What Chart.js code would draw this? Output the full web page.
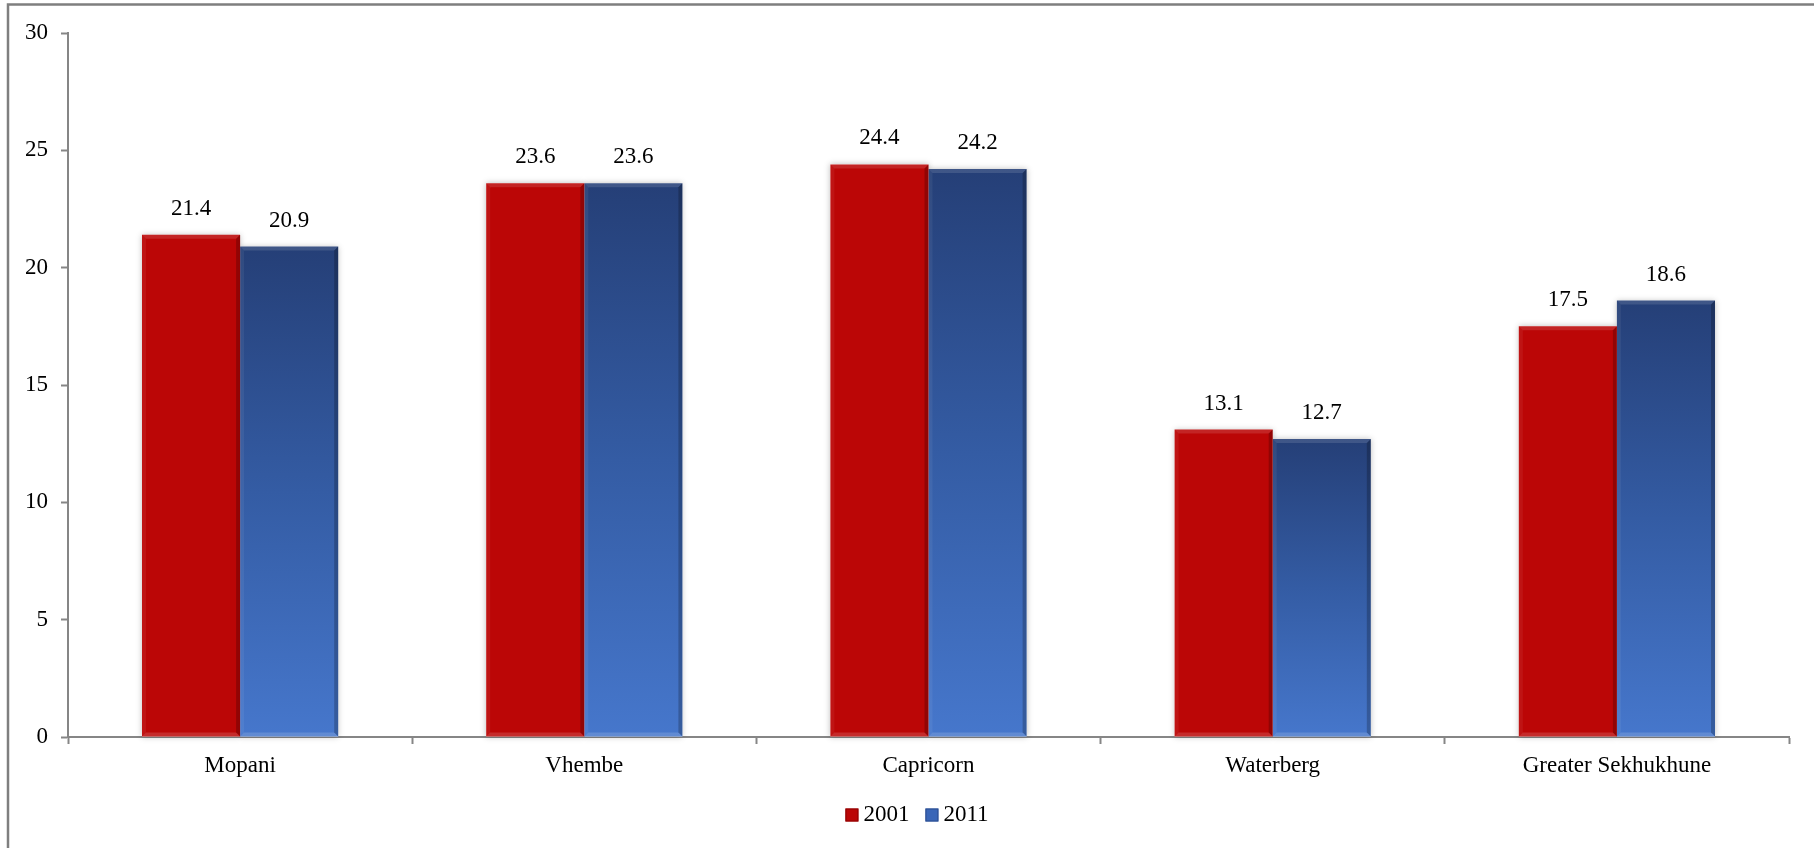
<!DOCTYPE html>
<html>
<head>
<meta charset="utf-8">
<script src="https://cdn.jsdelivr.net/npm/chart.js@4.4.1/dist/chart.umd.min.js"></script>
<style>
    html, body { margin: 0; padding: 0; background: #fff; }
    #wrap { position: relative; width: 1814px; height: 848px; }
</style>
</head>
<body>
<div id="wrap"><canvas id="bar-chart"></canvas></div>
<script>
const categories = ['Mopani', 'Vhembe', 'Capricorn', 'Waterberg', 'Greater Sekhukhune'];
const values2001 = [21.4, 23.6, 24.4, 13.1, 17.5];
const values2011 = [20.9, 23.6, 24.2, 12.7, 18.6];
const seriesLabels = ['2001', '2011'];
const yTicks = [0, 5, 10, 15, 20, 25, 30];

const FONT = "'Liberation Serif', 'Times New Roman', serif";
const RED = '#bb0606';

// blue bars get a dark top fading to a lighter bottom, per bar
function blueGradient(ctx) {
    const chart = ctx.chart;
    if (ctx.type !== 'data' || !chart.scales.y) return '#3b64b0';
    const y = chart.scales.y;
    const top = y.getPixelForValue(ctx.raw);
    const bottom = y.getPixelForValue(0);
    if (!isFinite(top) || !isFinite(bottom) || top === bottom) return '#3b64b0';
    const g = chart.ctx.createLinearGradient(0, top, 0, bottom);
    g.addColorStop(0, '#253f77');
    g.addColorStop(0.5, '#345ca4');
    g.addColorStop(1, '#4677cc');
    return g;
}

const framePlugin = {
    id: 'frame',
    beforeDraw(chart) {
        const c = chart.ctx;
        c.save();
        c.strokeStyle = '#7f7f7f';
        c.lineWidth = 2.5;
        c.beginPath();
        c.moveTo(8, chart.height);
        c.lineTo(8, 4.5);
        c.lineTo(chart.width, 4.5);
        c.stroke();
        c.restore();
    }
};

const bevelPlugin = {
    id: 'bevel',
    beforeDatasetsDraw(chart) {
        const c = chart.ctx;
        c.save();
        c.shadowColor = 'rgba(0,0,0,0.25)';
        c.shadowBlur = 6;
        chart.data.datasets.forEach((ds, i) => {
            chart.getDatasetMeta(i).data.forEach(bar => {
                c.fillStyle = '#fff';
                c.fillRect(bar.x - bar.width / 2, bar.y, bar.width, bar.base - bar.y);
            });
        });
        c.restore();
    },
    afterDatasetsDraw(chart) {
        const c = chart.ctx;
        c.save();
        chart.data.datasets.forEach((ds, i) => {
            chart.getDatasetMeta(i).data.forEach(bar => {
                const l = bar.x - bar.width / 2, r = bar.x + bar.width / 2;
                const t = bar.y, b = bar.base, e = 4;
                c.fillStyle = 'rgba(0,0,0,0.22)';
                c.beginPath();
                c.moveTo(r, t); c.lineTo(r, b); c.lineTo(r - e, b - e); c.lineTo(r - e, t + e);
                c.closePath(); c.fill();
                c.fillStyle = 'rgba(255,255,255,0.12)';
                c.beginPath();
                c.moveTo(l, t); c.lineTo(r, t); c.lineTo(r - e, t + e); c.lineTo(l + e, t + e);
                c.closePath(); c.fill();
                c.fillStyle = 'rgba(255,255,255,0.06)';
                c.beginPath();
                c.moveTo(l, t); c.lineTo(l + e, t + e); c.lineTo(l + e, b - e); c.lineTo(l, b);
                c.closePath(); c.fill();
                c.fillStyle = 'rgba(255,255,255,0.15)';
                c.beginPath();
                c.moveTo(l, b); c.lineTo(l + e, b - e); c.lineTo(r - e, b - e); c.lineTo(r, b);
                c.closePath(); c.fill();
            });
        });
        c.restore();
    }
};

const valueLabelPlugin = {
    id: 'valueLabels',
    afterDatasetsDraw(chart) {
        const c = chart.ctx;
        c.save();
        c.font = '23px ' + FONT;
        c.fillStyle = '#000';
        c.textAlign = 'center';
        c.textBaseline = 'middle';
        chart.data.datasets.forEach((ds, i) => {
            chart.getDatasetMeta(i).data.forEach((bar, j) => {
                c.fillText(ds.data[j].toFixed(1), bar.x, bar.y - 26);
            });
        });
        c.restore();
    }
};

// legend drawn by hand so the box sits close to its text, like the original
const legendPlugin = {
    id: 'smallLegend',
    afterDraw(chart) {
        const c = chart.ctx;
        c.save();
        c.font = '23px ' + FONT;
        c.textBaseline = 'middle';
        const box = 13, gap = 5, itemGap = 16;
        const items = chart.data.datasets.map((ds, i) => ({
            text: ds.label,
            fill: i === 0 ? RED : '#3a66b8',
            edge: i === 0 ? '#8a0000' : '#2a4c8c',
            w: box + gap + c.measureText(ds.label).width
        }));
        const total = items.reduce((s, it) => s + it.w, 0) + itemGap * (items.length - 1);
        let x = chart.width / 2 + 10 - total / 2;
        const y = chart.chartArea.bottom + 78;
        items.forEach(it => {
            c.fillStyle = it.fill;
            c.fillRect(x, y - box / 2, box, box);
            c.strokeStyle = it.edge;
            c.lineWidth = 1;
            c.strokeRect(x + 0.5, y - box / 2 + 0.5, box - 1, box - 1);
            c.fillStyle = '#000';
            c.fillText(it.text, x + box + gap, y);
            x += it.w + itemGap;
        });
        c.restore();
    }
};

const barChartElement = document.getElementById('bar-chart').getContext('2d');
const barChart = new Chart(barChartElement, {
    type: 'bar',
    data: {
        labels: categories,
        datasets: [{
            label: seriesLabels[0],
            data: values2001,
            backgroundColor: RED,
            borderWidth: 0
        }, {
            label: seriesLabels[1],
            data: values2011,
            backgroundColor: blueGradient,
            borderWidth: 0
        }]
    },
    options: {
        responsive: true,
        maintainAspectRatio: false,
        animation: false,
        categoryPercentage: 0.57,
        barPercentage: 1.0,
        layout: {
            padding: { left: 0, right: 25, top: 33, bottom: 56 }
        },
        scales: {
            x: {
                grid: {
                    display: true,
                    offset: true,
                    drawOnChartArea: false,
                    drawTicks: true,
                    tickLength: 7,
                    tickWidth: 2,
                    color: '#868686'
                },
                border: { display: true, color: '#868686', width: 2 },
                ticks: {
                    color: '#000',
                    padding: 8,
                    font: { family: FONT, size: 23 }
                },
                afterFit(scale) { scale.height = 55; }
            },
            y: {
                min: 0,
                max: 30,
                afterBuildTicks(scale) { scale.ticks = yTicks.map(v => ({ value: v })); },
                grid: {
                    display: true,
                    drawOnChartArea: false,
                    drawTicks: true,
                    tickLength: 7,
                    tickWidth: 2,
                    color: '#868686'
                },
                border: { display: true, color: '#868686', width: 2 },
                ticks: {
                    color: '#000',
                    padding: 13,
                    font: { family: FONT, size: 23 }
                },
                afterFit(scale) { scale.width = 68; }
            }
        },
        plugins: {
            legend: { display: false },
            tooltip: { enabled: false }
        }
    },
    plugins: [framePlugin, bevelPlugin, valueLabelPlugin, legendPlugin]
});
</script>
</body>
</html>
